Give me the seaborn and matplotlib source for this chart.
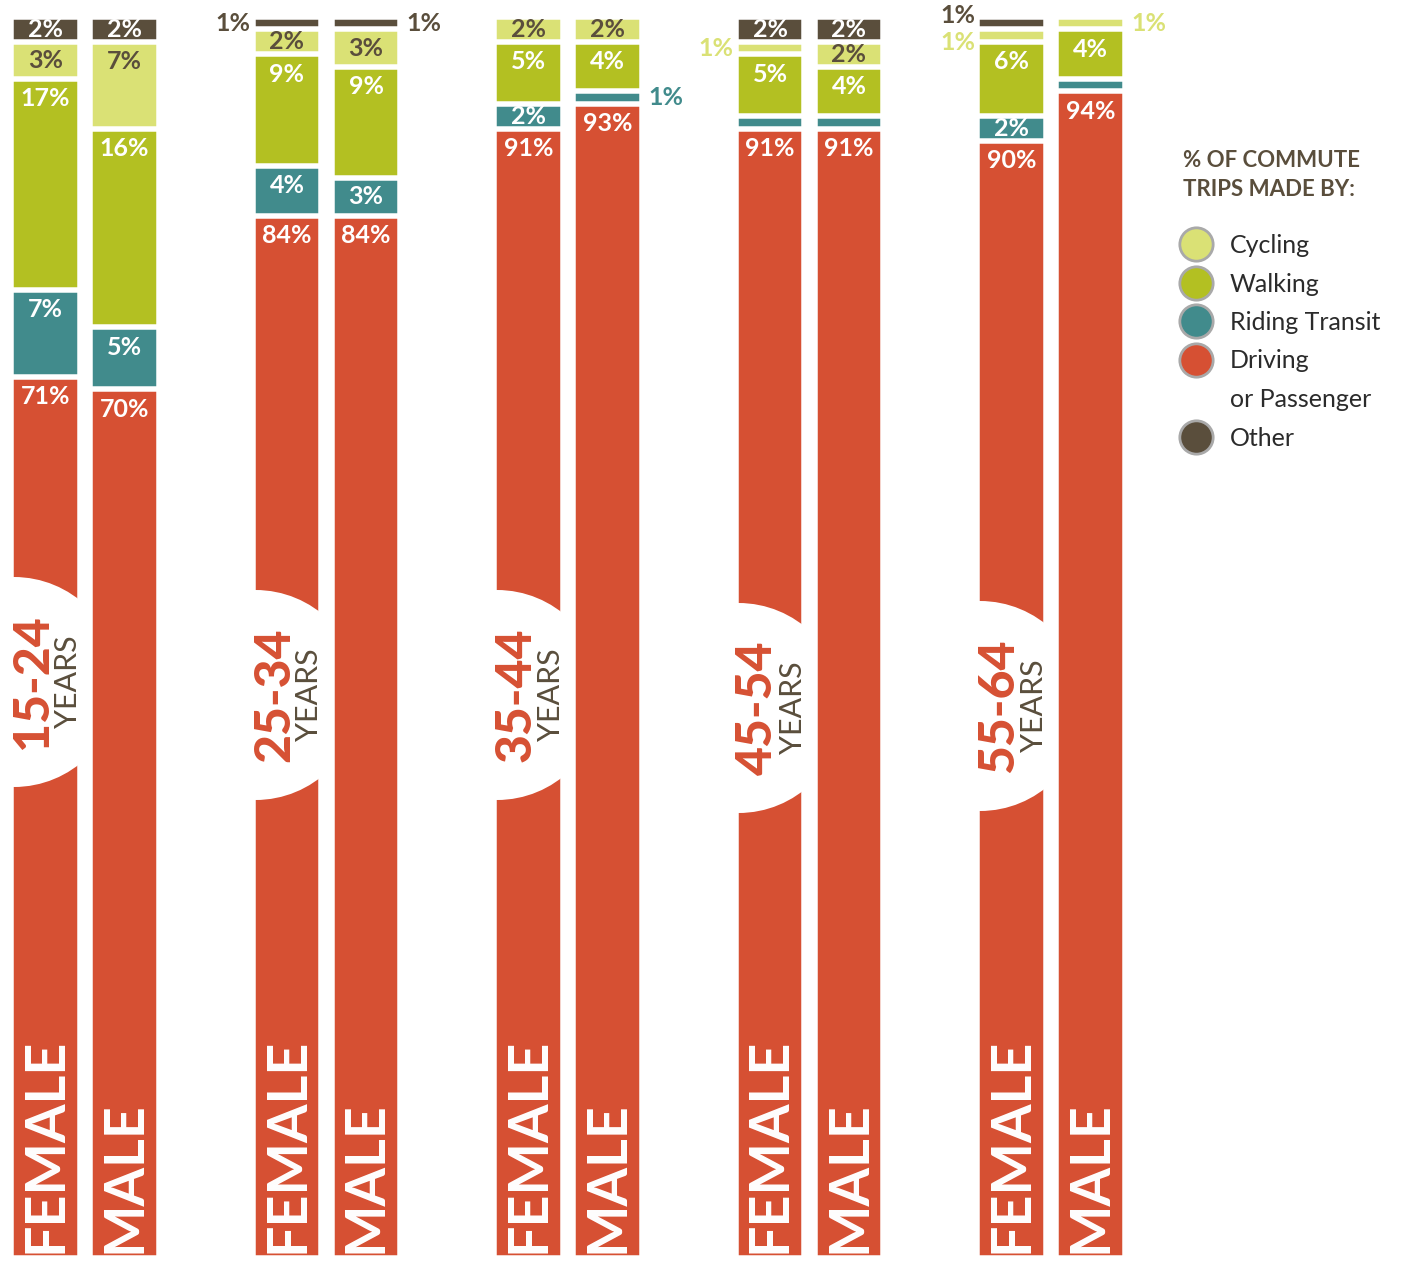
import matplotlib
matplotlib.use("Agg")
import matplotlib.pyplot as plt
import seaborn as sns
from matplotlib.patches import Ellipse
from matplotlib.lines import Line2D

# data: bars ordered F 15-24, M 15-24, F 25-34, M 25-34, ...
age_groups = ["15-24", "25-34", "35-44", "45-54", "55-64"]
sexes = ["FEMALE", "MALE"]
driving = [71, 70, 84, 84, 91, 93, 91, 91, 90, 94]
transit = [7, 5, 4, 3, 2, 1, 1, 1, 2, 1]
walking = [17, 16, 9, 9, 5, 4, 5, 4, 6, 4]
cycling = [3, 7, 2, 3, 2, 2, 1, 2, 1, 1]
other = [2, 2, 1, 1, 0, 0, 2, 2, 1, 0]

modes = ["Driving", "Riding Transit", "Walking", "Cycling", "Other"]  # bottom -> top
values = [driving, transit, walking, cycling, other]
# segments printed without a number
unlabeled = [(6, "Riding Transit"), (7, "Riding Transit"), (9, "Riding Transit")]

colors = {
    "Driving": "#D65033",
    "Riding Transit": "#418B8C",
    "Walking": "#B3C022",
    "Cycling": "#DAE175",
    "Other": "#5A4E3C",
}
label_colors = {"Driving": "white", "Riding Transit": "white", "Walking": "white",
                "Cycling": "#5A4E3C", "Other": "white"}

sns.set_theme(style="white")
plt.rcParams['font.family'] = ['Lato', 'DejaVu Sans']

W, H = 1401, 1262
fig = plt.figure(figsize=(W / 100, H / 100), dpi=100)
ax = fig.add_axes([0, 0, 1, 1])
ax.set_axis_off()

bottom_px, top_px = 1258, 17
ppu = (bottom_px - top_px) / 100  # pixels per percent

def dy(px):
    return px / ppu

group_step = 241.5
fem_x = [45.5 + group_step * i for i in range(len(age_groups))]
male_x = [x + 79 for x in fem_x]
bar_px = 63
gap_px = 5.5
lw = gap_px * 72 / 100

def draw_stack(sex_idx, xs, z):
    for k in range(len(modes) - 1, -1, -1):
        heights = [sum(values[j][b] for j in range(k + 1))
                   for b in range(sex_idx, len(driving), 2)]
        sns.barplot(x=xs, y=heights, native_scale=True, orient="x",
                    color=colors[modes[k]], saturation=1,
                    width=(bar_px + gap_px) / group_step,
                    edgecolor="white", linewidth=lw, errorbar=None,
                    ax=ax, zorder=z)

# female bars, then the age circles, then male bars on top
draw_stack(0, fem_x, 1)

circle_px = [682, 695, 695, 708, 706]
r_px = 105
for i, g in enumerate(age_groups):
    left = fem_x[i] - bar_px / 2
    cy = dy(bottom_px - circle_px[i])
    ax.add_patch(Ellipse((left, cy), 2 * r_px, dy(2 * r_px), facecolor="white",
                         edgecolor="none", zorder=1.5))
    ax.text(left + 19, cy, g, rotation=90, ha="center", va="center",
            color=colors["Driving"], fontsize=36, fontweight="black", zorder=4)
    ax.text(left + 54, cy, "YEARS", rotation=90, ha="center", va="center",
            color="#5A4E3C", fontsize=22, zorder=4)

draw_stack(1, male_x, 2)

ax.set_xlim(0, W)
ax.set_ylim(-dy(H - bottom_px), 100 + dy(top_px))

# segment labels
fs = 18
for b in range(len(driving)):
    xc = fem_x[b // 2] if b % 2 == 0 else male_x[b // 2]
    base = 0
    outside = []
    for k, m in enumerate(modes):
        v = values[k][b]
        if v == 0:
            continue
        lo, hi = base, base + v
        base = hi
        if (b, m) in unlabeled:
            continue
        txt = f"{v}%"
        if v == 1:
            outside.append([(lo + hi) / 2, txt, colors[m]])
        elif v <= 3:
            ax.text(xc, (lo + hi) / 2, txt, ha="center", va="center",
                    color=label_colors[m], fontsize=fs, fontweight="bold")
        else:
            ax.annotate(txt, (xc, hi), xytext=(0, -6), textcoords="offset points",
                        ha="center", va="top", color=label_colors[m],
                        fontsize=fs, fontweight="bold")
    # keep stacked small labels apart
    outside.sort(key=lambda o: -o[0])
    min_sep = dy(27)
    for i in range(1, len(outside)):
        d = min_sep - (outside[i - 1][0] - outside[i][0])
        if d > 0:
            outside[i - 1][0] += d / 2
            outside[i][0] -= d / 2
    for y, txt, c in outside:
        if b % 2 == 0:
            ax.text(xc - bar_px / 2 - 5, y, txt, ha="right", va="center",
                    color=c, fontsize=fs, fontweight="bold")
        else:
            ax.text(xc + bar_px / 2 + 9, y, txt, ha="left", va="center",
                    color=c, fontsize=fs, fontweight="bold")

# sex labels at the bottom of each bar
for i in range(len(age_groups)):
    for xc, s in zip([fem_x[i], male_x[i]], sexes):
        ax.text(xc, dy(5), s, rotation=90, ha="center", va="bottom",
                color="white", fontsize=40, fontweight="bold")

# legend
fig.text(1183 / W, 1 - 150 / H, "% OF COMMUTE\nTRIPS MADE BY:", ha="left", va="top",
         color="#5A4E3C", fontsize=16, fontweight="bold", linespacing=1.5)

legend_modes = ["Cycling", "Walking", "Riding Transit", "Driving", None, "Other"]
legend_labels = ["Cycling", "Walking", "Riding Transit", "Driving", "or Passenger", "Other"]
handles = []
for m in legend_modes:
    if m is None:
        handles.append(Line2D([], [], linestyle="", marker=None))
    else:
        handles.append(Line2D([], [], marker="o", linestyle="", markersize=24,
                              markerfacecolor=colors[m], markeredgecolor="#A9A9A9",
                              markeredgewidth=2))
leg = fig.legend(handles, legend_labels, loc="upper left",
                 bbox_to_anchor=(1181 / W, 1 - 234 / H), frameon=False,
                 fontsize=18, handletextpad=0.75, labelspacing=0.62,
                 borderpad=0, borderaxespad=0, handlelength=1.2)
for t in leg.get_texts():
    t.set_color("#2B2B2B")

fig.savefig("out.png", dpi=100)
